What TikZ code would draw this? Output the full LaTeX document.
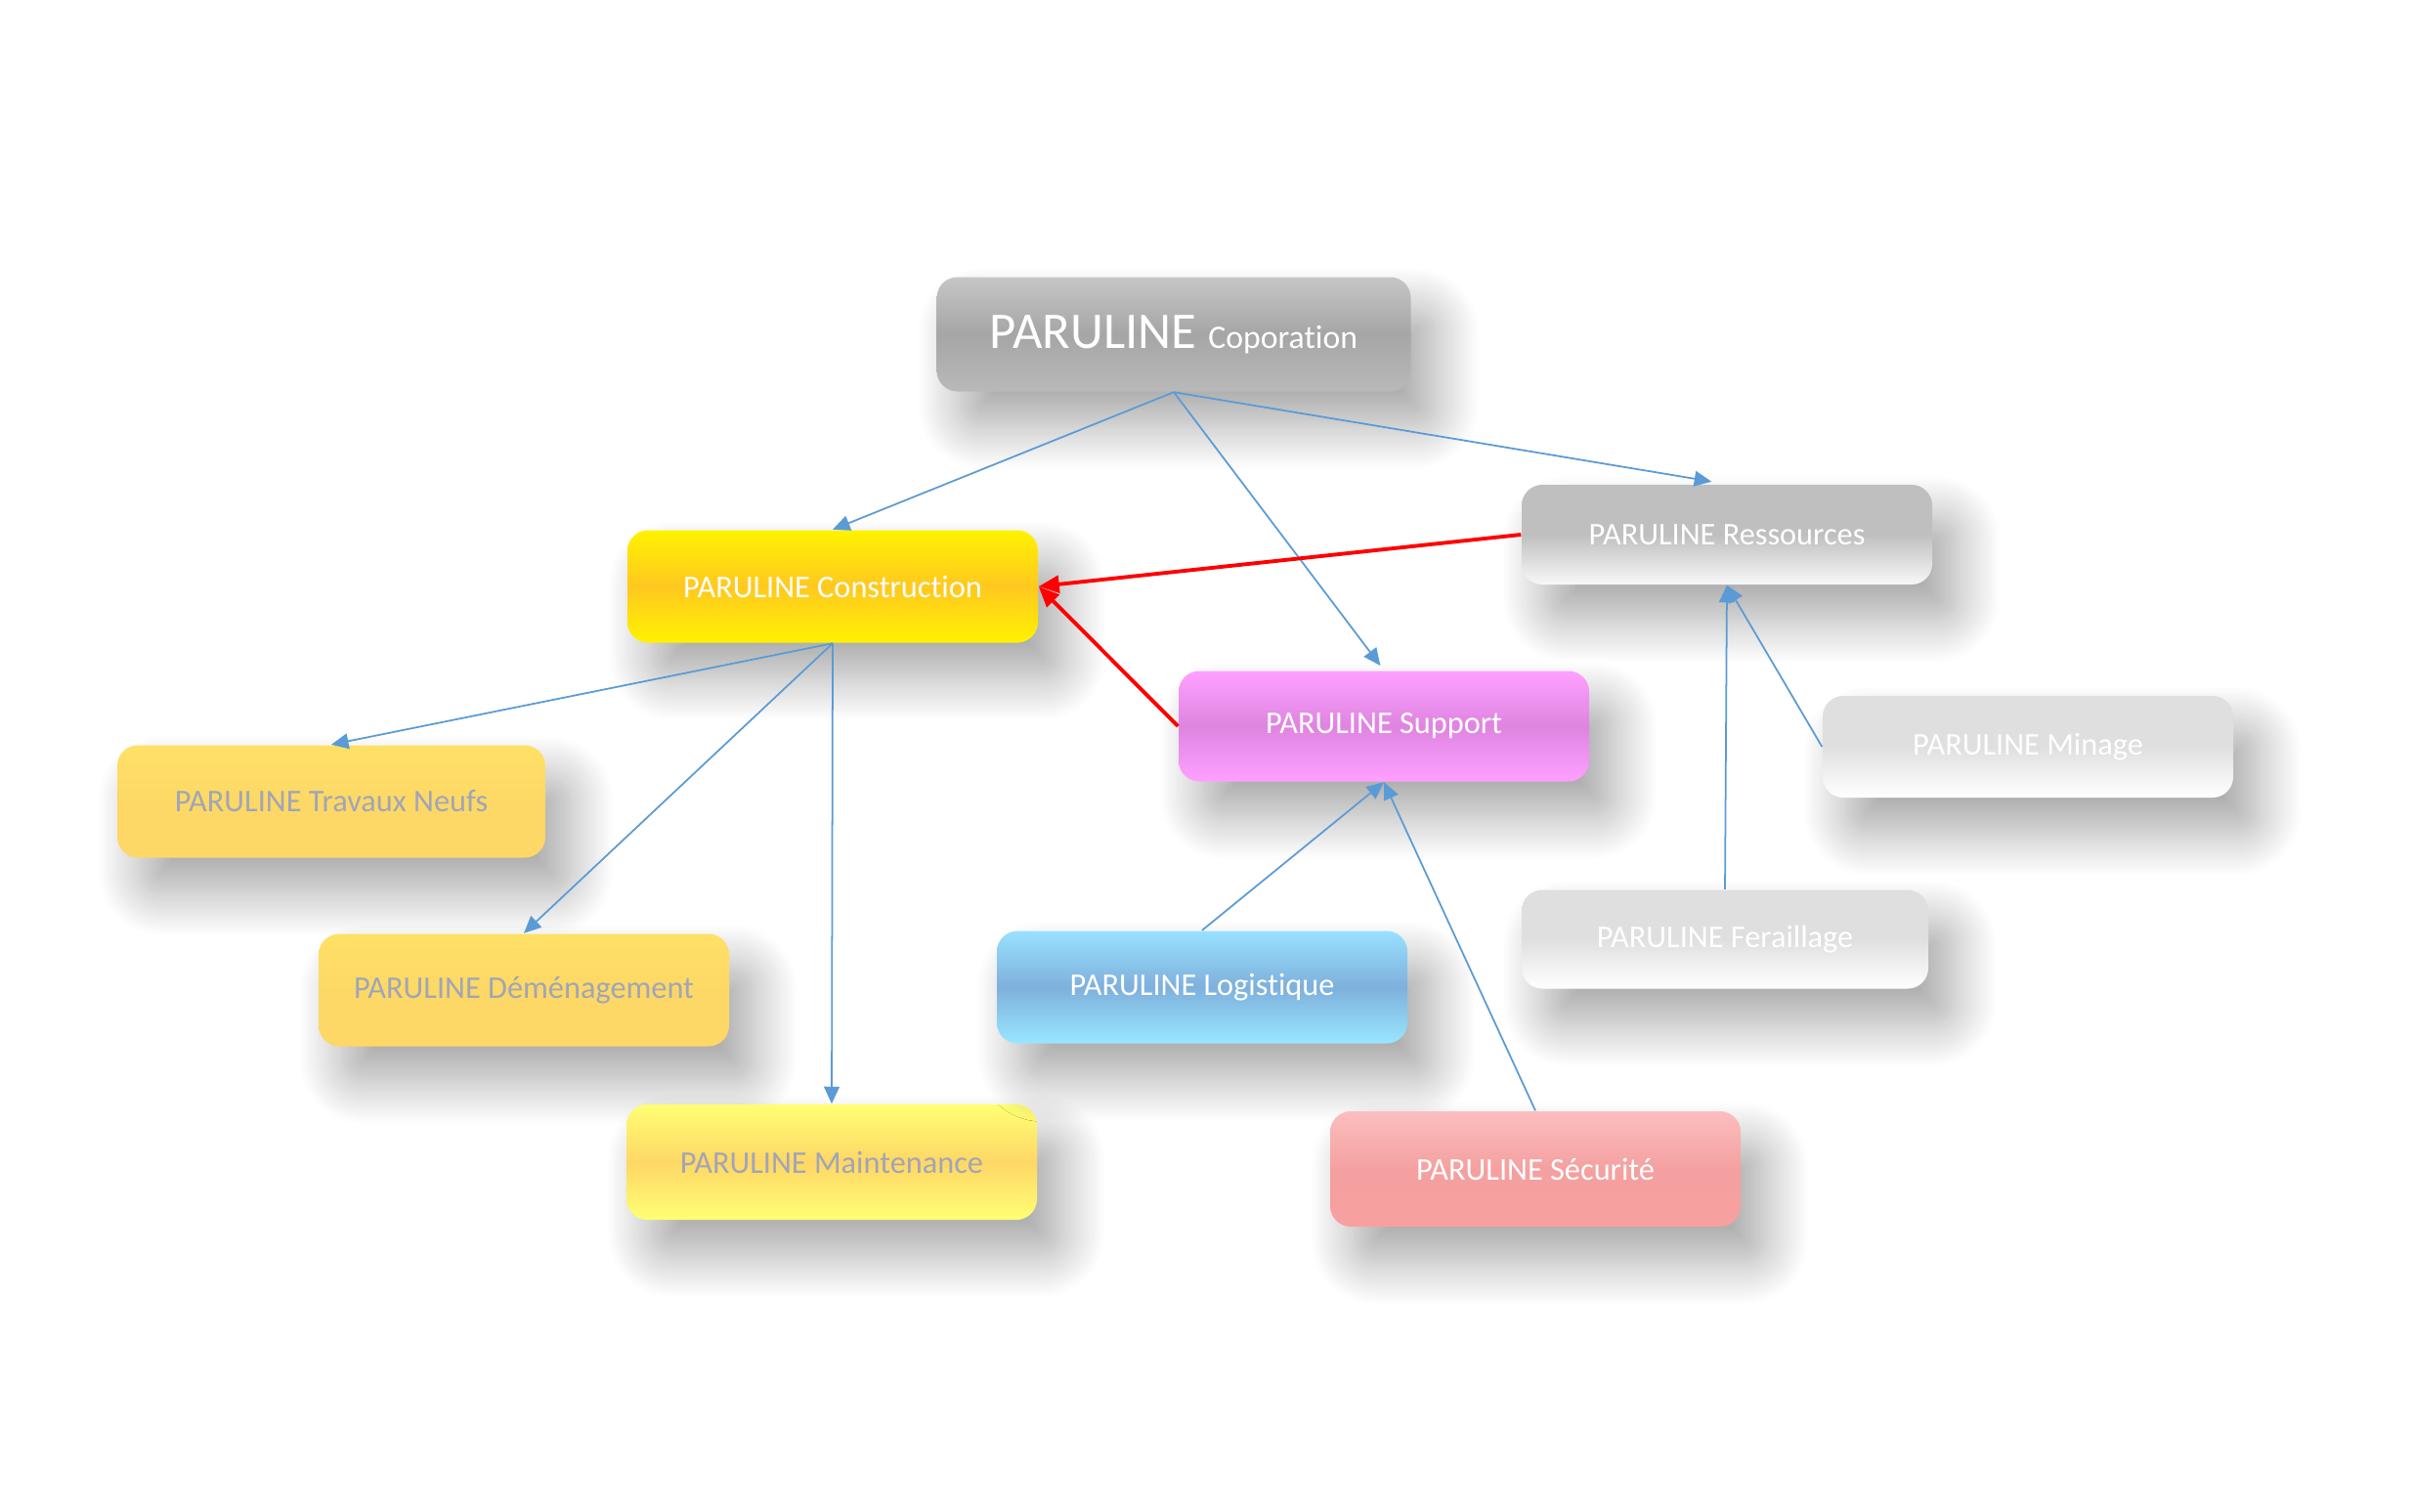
\documentclass[tikz,border=0pt]{standalone}
\usepackage{fontspec}
\setmainfont{Carlito}[Ligatures=NoCommon]
\usetikzlibrary{arrows.meta,shadows.blur}

\definecolor{linkblue}{HTML}{5B9BD5}
\definecolor{dimtext}{HTML}{A0A5B8}

\begin{document}
\begin{tikzpicture}[scale=1,
    box/.style={rectangle, rounded corners=6pt, minimum width=4.2cm, minimum height=1.15cm,
        text=white, font=\fontsize{9.2}{11}\selectfont,
        blur shadow={shadow xshift=0.25cm, shadow yshift=-0.35cm, shadow blur radius=0.45cm,
            shadow blur steps=25, shadow opacity=35}},
    link/.style={draw=linkblue, line width=0.5pt, -{Triangle[length=5pt,width=4.5pt]}},
    redlink/.style={draw=red, line width=1.1pt, -{Triangle[length=6pt,width=5pt]}}
]
        \useasboundingbox (0,0) rectangle (24.69,-15.46);

        % Define nodes for the group
        \node at (12.01, -3.42) (corp) [box, minimum width=4.85cm, minimum height=1.17cm,
            top color=gray!45, bottom color=gray!55, middle color=gray!70]
            {\fontsize{15}{16}\selectfont PARULINE \fontsize{9.6}{11}\selectfont Coporation};

        % Define nodes for the branches
        \node at (8.52, -6.00) (cons) [box, top color=yellow!90!orange, bottom color=yellow!90!orange,
            middle color={rgb,255:red,255;green,200;blue,32}] {PARULINE Construction};
        \node at (17.67, -5.47) (ress) [box, minimum height=1.02cm, top color=gray!50, bottom color=gray!5,
            middle color=gray!50] {PARULINE Ressources};
        \node at (14.16, -7.43) (supp) [box, minimum height=1.13cm, top color={rgb,255:red,255;green,160;blue,255},
            bottom color={rgb,255:red,255;green,160;blue,255}, middle color={rgb,255:red,222;green,133;blue,224}]
            {PARULINE Support};

        % Define nodes under Construction
        \node at (3.39, -8.20) (trav) [box, minimum width=4.38cm, text=dimtext, top color=yellow!60!orange!60,
            bottom color={rgb,255:red,253;green,216;blue,102}, middle color={rgb,255:red,253;green,216;blue,102}]
            {PARULINE Travaux Neufs};
        \node at (5.36, -10.13) (deme) [box, text=dimtext, top color=yellow!60!orange!60,
            bottom color={rgb,255:red,253;green,216;blue,102}, middle color={rgb,255:red,253;green,216;blue,102}]
            {PARULINE Déménagement};
        \node at (8.51, -11.89) (main) [box, minimum height=1.18cm, text=dimtext, top color=yellow!55,
            bottom color=yellow!55, middle color={rgb,255:red,254;green,215;blue,102}]
            {PARULINE Maintenance};

        % Define nodes under Support
        \node at (12.30, -10.10) (logi) [box, top color={rgb,255:red,153;green,225;blue,255},
            bottom color={rgb,255:red,153;green,230;blue,255}, middle color={rgb,255:red,126;green,176;blue,220}]
            {PARULINE Logistique};
        \node at (15.71, -11.96) (secu) [box, minimum height=1.18cm, top color={rgb,255:red,252;green,190;blue,190},
            bottom color={rgb,255:red,248;green,160;blue,160}, middle color={rgb,255:red,244;green,160;blue,160}]
            {PARULINE Sécurité};

        % Define nodes under Ressources
        \node at (20.75, -7.64) (mina) [box, minimum height=1.04cm, top color=gray!25, bottom color=white,
            middle color=gray!25] {PARULINE Minage};
        \node at (17.65, -9.61) (fera) [box, minimum width=4.16cm, minimum height=1.01cm, top color=gray!25,
            bottom color=white, middle color=gray!25] {PARULINE Feraillage};

        % Draw edges
        \draw[link] (corp.south) -- (cons.north);
        \draw[link, shorten >=0.06cm] (corp.south) -- (supp.north);
        \draw[link, shorten >=0.16cm] (corp.south) -- (ress.north);
        \draw[link] (cons.south) -- (trav.north);
        \draw[link] (cons.south) -- (deme.north);
        \draw[link] (cons.south) -- (main.north);
        \draw[link] (logi.north) -- (supp.south);
        \draw[link] (secu.north) -- (supp.south);
        \draw[link] (fera.north) -- (ress.south);
        \draw[link] (mina.west) -- (ress.south);
        \draw[redlink] (ress.west) -- (cons.east);
        \draw[redlink] (supp.west) -- (cons.east);
    \end{tikzpicture}
\end{document}
